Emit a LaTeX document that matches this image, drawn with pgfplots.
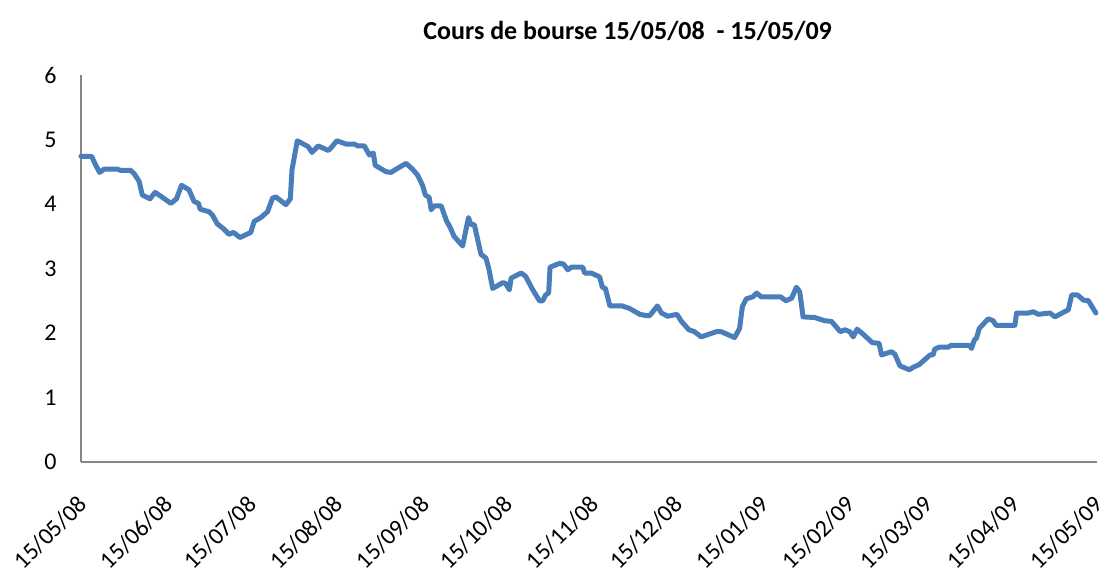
\documentclass[border=0pt]{standalone}
\usepackage{fontspec}
\setmainfont{Carlito}
\usepackage{pgfplots}
\pgfplotsset{compat=1.18}
\definecolor{lineblue}{HTML}{4A7EBB}
\definecolor{axgray}{HTML}{868686}
\begin{document}
\begin{tikzpicture}
\path[use as bounding box] (-40.5pt,-53pt) rectangle (510pt,231pt);
\begin{axis}[
  at={(0,0)}, anchor=south west,
  scale only axis, width=508pt, height=193.5pt,
  xmin=0, xmax=365, ymin=0, ymax=6,
  axis x line=bottom, axis y line=left,
  axis line style={draw=axgray, line width=0.9pt, -},
  major tick length=0pt,
  xtick={0,31,61,92,123,153,184,214,245,276,304,335,365},
  xticklabels={15/05/08,15/06/08,15/07/08,15/08/08,15/09/08,15/10/08,15/11/08,15/12/08,15/01/09,15/02/09,15/03/09,15/04/09,15/05/09},
  ytick={0,1,2,3,4,5,6},
  /pgf/number format/assume math mode=true,
  tick label style={font=\fontsize{12}{14}\selectfont},
  xticklabel style={xshift=1pt, yshift=-19pt, rotate=45, anchor=east, inner sep=0pt},
  yticklabel style={anchor=east, inner sep=0pt, xshift=-12pt},
  every axis title/.style={at={(0.538,1)}, anchor=center, yshift=22pt, font=\bfseries\fontsize{13}{15}\selectfont},
  title={Cours de bourse 15/05/08\ \ - 15/05/09},
  clip=false,
]
\addplot[lineblue, line width=2.5pt, line join=round, line cap=round] coordinates {
(0,4.74)(3.8,4.74)(5.3,4.60)(6.7,4.49)(8.3,4.54)(13.1,4.54)(14.3,4.52)(17.9,4.52)
(19.1,4.47)(20.9,4.35)(22.0,4.14)(24.8,4.08)(26.6,4.18)(28.7,4.12)(32.3,4.01)(34.3,4.08)
(36.1,4.29)(38.8,4.22)(40.6,4.04)(42.2,4.01)(42.8,3.92)(46.0,3.88)(47.2,3.83)(49.0,3.69)
(51.1,3.62)(53.2,3.53)(54.8,3.56)(57.1,3.48)(61.0,3.56)(62.2,3.73)(64.6,3.79)(67.0,3.88)
(68.8,4.09)(70.0,4.11)(73.6,3.99)(75.2,4.08)(75.8,4.53)(77.7,4.98)(81.6,4.89)(83.0,4.80)
(85.2,4.90)(88.9,4.83)(90.2,4.89)(91.9,4.98)(95.2,4.93)(98.2,4.93)(99.4,4.90)(101.8,4.90)
(103.6,4.76)(105.0,4.79)(105.7,4.60)(109.6,4.50)(111.4,4.49)(113.2,4.54)(116.8,4.63)(119.1,4.54)
(120.9,4.45)(122.7,4.29)(123.7,4.14)(125.1,4.10)(125.8,3.91)(126.9,3.97)(129.4,3.97)(131.3,3.74)
(132.7,3.63)(134.0,3.50)(137.1,3.35)(139.2,3.79)(140.1,3.68)(141.3,3.68)(143.7,3.22)(145.5,3.16)
(146.5,3.00)(147.9,2.69)(151.5,2.78)(152.5,2.77)(153.9,2.67)(154.5,2.85)(158.1,2.93)(159.7,2.88)
(162.3,2.67)(164.7,2.50)(165.9,2.50)(166.9,2.59)(168.0,2.62)(168.5,3.02)(171.9,3.08)(173.3,3.07)
(174.9,2.98)(176.1,3.02)(180.3,3.02)(180.9,2.93)(183.3,2.93)(186.3,2.87)(187.3,2.71)(188.4,2.69)
(190.0,2.42)(194.4,2.42)(197.1,2.38)(200.7,2.29)(203.1,2.27)(204.3,2.27)(207.1,2.42)(208.5,2.31)
(210.8,2.26)(214.1,2.29)(215.7,2.18)(218.4,2.05)(220.4,2.02)(222.8,1.94)(228.2,2.02)(230.0,2.02)
(234.8,1.93)(236.6,2.07)(237.6,2.41)(239.0,2.53)(241.3,2.56)(242.7,2.62)(244.4,2.56)(251.4,2.56)
(253.2,2.50)(255.3,2.54)(257.0,2.71)(258.2,2.64)(259.4,2.25)(263.6,2.24)(267.2,2.19)(269.6,2.18)
(272.8,2.02)(274.4,2.05)(276.2,2.02)(277.4,1.94)(278.8,2.06)(281.0,1.98)(284.3,1.85)(286.7,1.84)
(287.6,1.66)(291.2,1.71)(292.4,1.67)(294.2,1.49)(297.6,1.43)(299.0,1.47)(301.1,1.51)(303.2,1.59)
(305.0,1.66)(306.1,1.66)(306.7,1.75)(308.3,1.78)(311.5,1.78)(312.7,1.81)(319.1,1.81)(319.9,1.76)
(320.9,1.89)(321.7,1.92)(322.7,2.07)(325.9,2.22)(327.7,2.19)(328.7,2.12)(335.5,2.12)(336.1,2.31)
(340.3,2.31)(342.1,2.33)(343.9,2.29)(348.1,2.31)(349.9,2.25)(352.9,2.32)(354.7,2.36)(355.9,2.59)
(358.0,2.59)(360.1,2.51)(361.9,2.50)(364.6,2.31)
};
\end{axis}
\end{tikzpicture}
\end{document}
